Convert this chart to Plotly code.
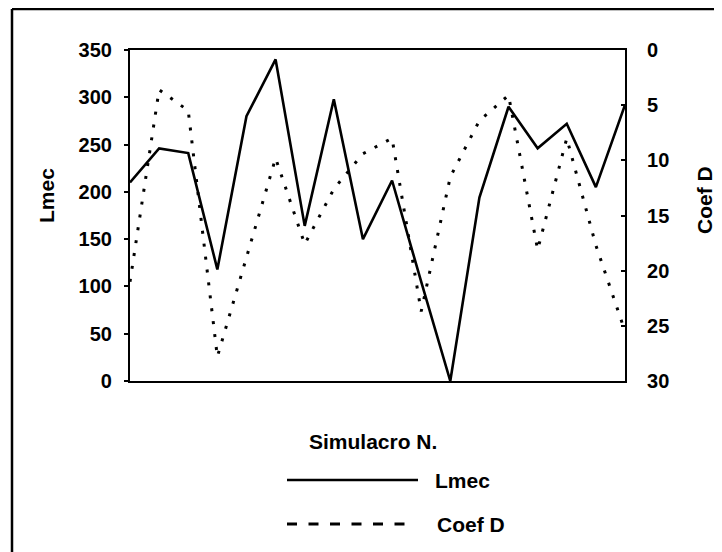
import plotly.graph_objects as go

# ---- data ----
simulacro = list(range(1, 19))
lmec = [210, 246, 241, 118, 280, 340, 164, 298, 150, 212, 105, 0, 194, 290, 246, 272, 205, 292]
coef_d = [21.0, 3.6, 5.5, 27.8, 18.8, 9.8, 17.6, 12.6, 9.4, 8.0, 23.7, 11.5, 6.4, 4.1, 18.1, 8.0, 17.7, 25.5]
left_ticks = [0, 50, 100, 150, 200, 250, 300, 350]
right_ticks = [0, 5, 10, 15, 20, 25, 30]

OFF = 8  # page body margin
W, H = 722 - OFF, 552 - OFF
L, R, T, B = 130 - OFF, 97, 50 - OFF, 171
PW, PH = W - L - R, H - T - B


def px(x):
    # screen x -> paper
    return (x - OFF - L) / PW


def py(y):
    # screen y -> paper
    return (H - B - (y - OFF)) / PH


FONT = "Liberation Sans, Arial, sans-serif"

fig = go.Figure()
fig.add_trace(go.Scatter(x=simulacro, y=lmec, mode="lines", name="Lmec",
                         line=dict(color="black", width=2.6), showlegend=False))
fig.add_trace(go.Scatter(x=simulacro, y=coef_d, mode="lines", name="Coef D", yaxis="y2",
                         line=dict(color="black", width=3, dash="3px,10px"), showlegend=False))

fig.update_layout(
    width=W, height=H,
    margin=dict(l=L, r=R, t=T, b=B, pad=0),
    paper_bgcolor="white", plot_bgcolor="white",
    font=dict(family=FONT, color="black", size=20),
    xaxis=dict(range=[1, 18], showline=True, linecolor="black", linewidth=2.2, mirror=True,
               showgrid=False, zeroline=False, showticklabels=False, ticks=""),
    yaxis=dict(range=[0, 350], tickvals=left_ticks, showline=True, linecolor="black", linewidth=2.2,
               showgrid=False, zeroline=False, ticks="outside", ticklen=4, tickwidth=1.5,
               tickcolor="black", ticklabelstandoff=8,
               tickfont=dict(family=FONT, size=20, weight="bold")),
    yaxis2=dict(range=[30, 0], tickvals=right_ticks, overlaying="y", side="right",
                showline=True, linecolor="black", linewidth=2.2, showgrid=False, zeroline=False,
                ticks="inside", ticklen=4, tickwidth=1.5, tickcolor="black", ticklabelstandoff=16,
                tickfont=dict(family=FONT, size=20, weight="bold")),
)

# outer frame (left and top edges visible)
fig.add_shape(type="line", xref="paper", yref="paper", x0=px(12), x1=px(12), y0=py(9), y1=py(560),
              line=dict(color="black", width=2.5))
fig.add_shape(type="line", xref="paper", yref="paper", x0=px(12), x1=px(730), y0=py(9), y1=py(9),
              line=dict(color="black", width=2.5))

# manual legend
fig.add_shape(type="line", xref="paper", yref="paper", x0=px(287), x1=px(418), y0=py(480), y1=py(480),
              line=dict(color="black", width=2.6))
fig.add_shape(type="line", xref="paper", yref="paper", x0=px(287), x1=px(405), y0=py(524), y1=py(524),
              line=dict(color="black", width=3, dash="10px,11.5px"))

ann = dict(xref="paper", yref="paper", showarrow=False,
           font=dict(family=FONT, size=21, color="black", weight="bold"))
fig.add_annotation(x=px(433), y=py(480), text="Lmec", xanchor="left", yanchor="middle", **ann)
fig.add_annotation(x=px(435), y=py(524), text="Coef D", xanchor="left", yanchor="middle", **ann)
fig.add_annotation(x=px(373), y=py(442), text="Simulacro N.", xanchor="center", yanchor="middle", **ann)
fig.add_annotation(x=px(46), y=py(196), text="Lmec", textangle=-90, xanchor="center", yanchor="middle", **ann)
fig.add_annotation(x=px(704), y=py(200), text="Coef D", textangle=-90, xanchor="center", yanchor="middle", **ann)

fig.write_html("out.html")
